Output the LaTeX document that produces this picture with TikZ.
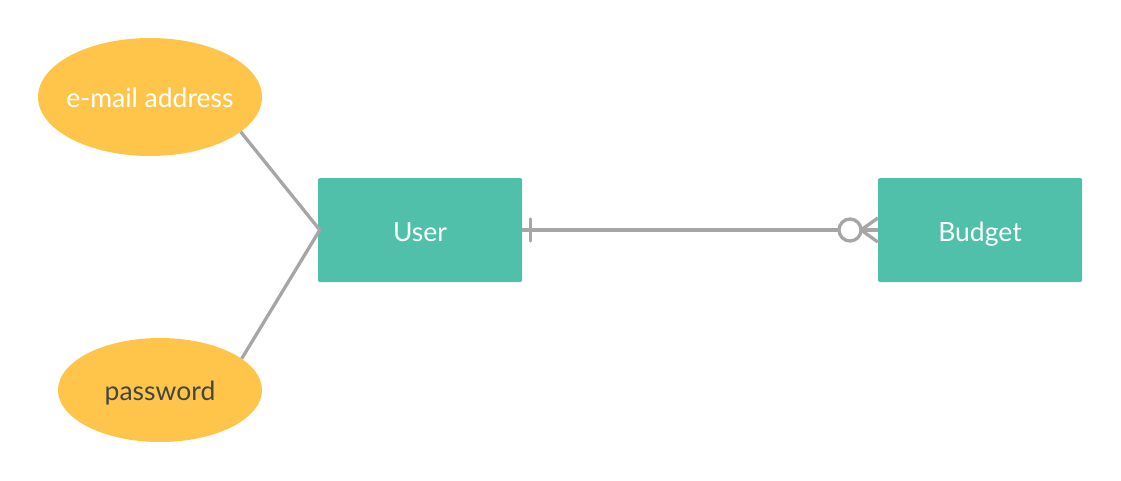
\documentclass[tikz,border=0pt]{standalone}
\usepackage{fontspec}
\setmainfont{Lato}
\usetikzlibrary{shapes.geometric}
\definecolor{attr}{HTML}{FFC54A}
\definecolor{ent}{HTML}{50C0AA}
\definecolor{conn}{HTML}{A6A6A6}
\definecolor{dtext}{HTML}{444444}
\begin{document}
\begin{tikzpicture}[x=1pt,y=-1pt,
  attrnode/.style={ellipse,fill=attr,inner sep=0pt,text depth=0pt,font=\fontsize{26.5}{32}\selectfont},
  entnode/.style={rectangle,fill=ent,rounded corners=1.5pt,minimum width=204pt,minimum height=104pt,inner sep=0pt,text height=23pt,text depth=0pt,text=white,font=\fontsize{26.5}{32}\selectfont},
  connline/.style={draw=conn,line width=3.3pt}]
\useasboundingbox (0,0) rectangle (1121,480);
\node[attrnode,minimum width=224pt,minimum height=118pt,text height=20pt,text=white] (email) at (150,97) {\makebox[0pt]{e-mail address}};
\node[attrnode,minimum width=204pt,minimum height=104pt,text height=20pt,text=dtext] (pass) at (160,390) {\makebox[0pt]{password}};
\node[entnode] (user) at (420,230) {User};
\node[entnode] (budget) at (980,230) {Budget};
\draw[connline] (email.-21) -- ([xshift=2pt]user.west);
\draw[connline] (pass.21) -- ([xshift=2pt]user.west);
\coordinate (circ) at (850,230);
\draw[connline] (user.east) -- ([xshift=-12pt]circ);
\draw[connline,line cap=round] ([xshift=8pt]user.east) ++(0,-11) -- ++(0,22);
\draw[connline] (circ) circle[radius=11];
\draw[connline] ([xshift=11pt]circ) -- (budget.west);
\draw[connline] ([xshift=11pt]circ) -- ([yshift=-12pt]budget.west);
\draw[connline] ([xshift=11pt]circ) -- ([yshift=12pt]budget.west);
\end{tikzpicture}
\end{document}
